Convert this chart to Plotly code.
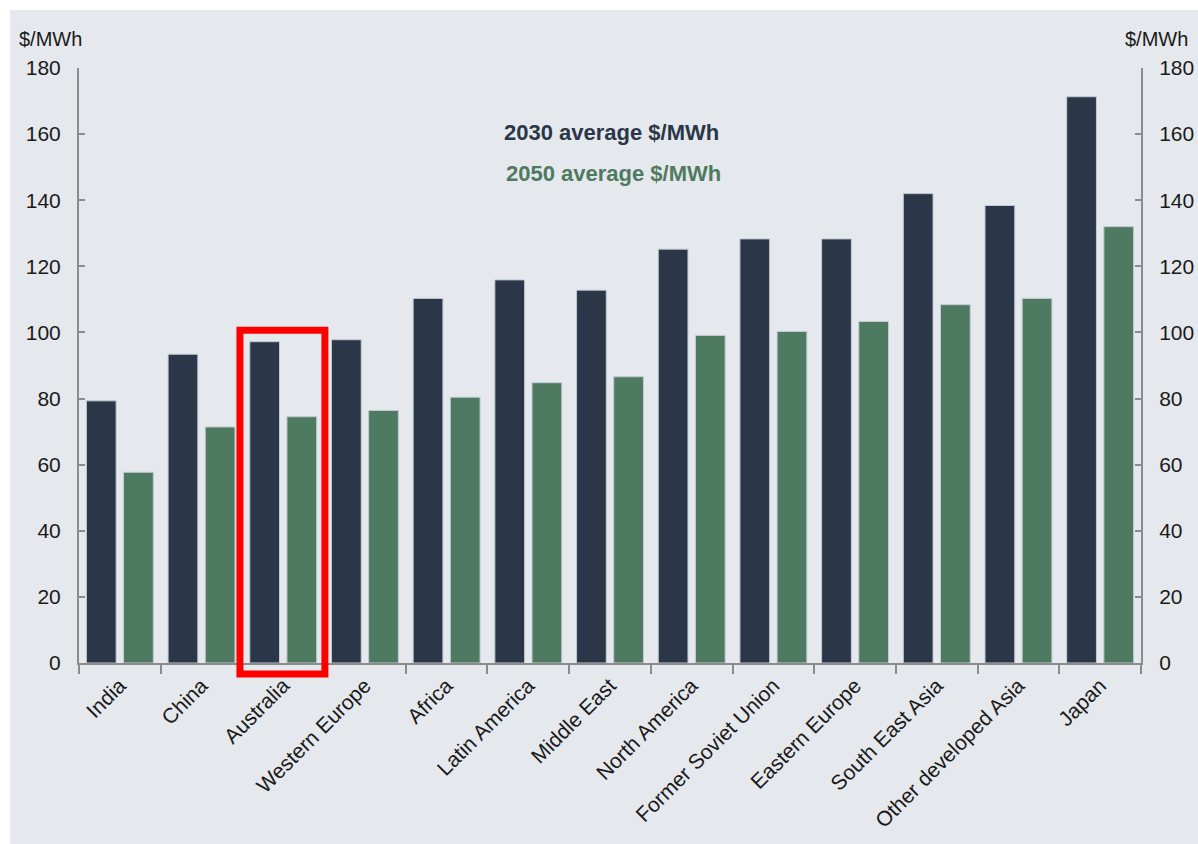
import plotly.graph_objects as go

# Regional average electricity cost, $/MWh
regions = ["India", "China", "Australia", "Western Europe", "Africa", "Latin America",
           "Middle East", "North America", "Former Soviet Union", "Eastern Europe",
           "South East Asia", "Other developed Asia", "Japan"]
avg_2030 = [79.3, 93.4, 97.2, 97.8, 110.3, 115.9, 112.8, 125.2, 128.3, 128.3, 142.0, 138.4, 171.3]
avg_2050 = [57.7, 71.4, 74.5, 76.4, 80.4, 84.8, 86.6, 99.1, 100.3, 103.3, 108.4, 110.3, 132.0]
y_ticks = [0, 20, 40, 60, 80, 100, 120, 140, 160, 180]

NAVY = "#2b3649"
GREEN = "#4e7a62"
BG = "#e5e8ec"
AXIS = "#8c8c8c"
TXT = "#1a1a1a"
FONT = "Arial, Liberation Sans, sans-serif"

W, H = 1198, 844
ML, MR, MT, MB = 79, 57, 68, 181
PW, PH = W - ML - MR, H - MT - MB
YMAX = 180
n = len(regions)

fig = go.Figure()
fig.add_trace(go.Bar(x=regions, y=avg_2030, name="2030 average $/MWh",
                     marker=dict(color=NAVY, line=dict(color="#c3cad3", width=1))))
fig.add_trace(go.Bar(x=regions, y=avg_2050, name="2050 average $/MWh",
                     marker=dict(color=GREEN, line=dict(color="#c3cad3", width=1))))
# invisible companion trace so the right-hand axis is drawn
fig.add_trace(go.Scatter(x=regions, y=avg_2030, yaxis="y2", mode="markers",
                         marker=dict(opacity=0), hoverinfo="skip", showlegend=False))

axis_common = dict(range=[0, YMAX], tickvals=y_ticks, showgrid=False, zeroline=False,
                   showline=True, linecolor=AXIS, linewidth=2, ticks="inside",
                   ticklen=6, tickwidth=2, tickcolor=AXIS,
                   tickfont=dict(family=FONT, size=21, color=TXT), ticklabelstandoff=12)

fig.update_layout(
    width=W, height=H,
    margin=dict(l=ML, r=MR, t=MT, b=MB, autoexpand=False),
    paper_bgcolor=BG, plot_bgcolor=BG,
    showlegend=False,
    barmode="group", bargap=0.09, bargroupgap=0.2,
    font=dict(family=FONT, color=TXT),
    xaxis=dict(type="category", range=[-0.5, n - 0.5], tickson="boundaries",
               ticks="outside", ticklen=9, tickwidth=2, tickcolor=AXIS,
               showline=True, linecolor=AXIS, linewidth=2,
               showgrid=False, tickangle=-45,
               tickfont=dict(family=FONT, size=21, color=TXT)),
    yaxis=dict(side="left", **axis_common),
    yaxis2=dict(side="right", overlaying="y", **axis_common),
)

def px_x(p):
    return (p - ML) / PW

def px_y(p):
    return (H - MB - p) / PH

# white frame strips on the left and top edges
fig.add_shape(type="rect", xref="paper", yref="paper", x0=px_x(0), x1=px_x(10),
              y0=px_y(H), y1=px_y(0), fillcolor="white", line=dict(width=0), layer="below")
fig.add_shape(type="rect", xref="paper", yref="paper", x0=px_x(0), x1=px_x(W),
              y0=px_y(10), y1=px_y(0), fillcolor="white", line=dict(width=0), layer="below")

# unit labels above both axes
fig.add_annotation(text="$/MWh", xref="paper", yref="paper", x=px_x(17), y=px_y(39),
                   xanchor="left", yanchor="middle", showarrow=False,
                   font=dict(family=FONT, size=20, color=TXT))
fig.add_annotation(text="$/MWh", xref="paper", yref="paper", x=px_x(1190), y=px_y(39),
                   xanchor="right", yanchor="middle", showarrow=False,
                   font=dict(family=FONT, size=20, color=TXT))

# series labels in place of a legend
fig.add_annotation(text="<b>2030 average $/MWh</b>", xref="paper", yref="paper",
                   x=px_x(611), y=px_y(133), xanchor="center", yanchor="middle",
                   showarrow=False, font=dict(family=FONT, size=22, color=NAVY))
fig.add_annotation(text="<b>2050 average $/MWh</b>", xref="paper", yref="paper",
                   x=px_x(613), y=px_y(173), xanchor="center", yanchor="middle",
                   showarrow=False, font=dict(family=FONT, size=22, color=GREEN))

# highlight box around Australia
i = regions.index("Australia")
top = max(avg_2030[i], avg_2050[i])
fig.add_shape(type="rect", xref="paper", yref="paper",
              x0=(i - 0.53 + 0.5) / n, x1=(i + 0.51 + 0.5) / n,
              y0=-3.3 / YMAX, y1=(top + 3.5) / YMAX,
              line=dict(color="#ff0000", width=7), fillcolor="rgba(0,0,0,0)")

fig.write_html("out.html")
